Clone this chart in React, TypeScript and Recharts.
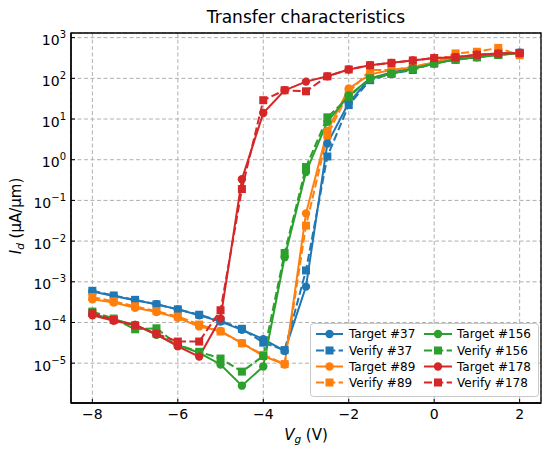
import React from "react";
import { LineChart, Line, XAxis, YAxis, CartesianGrid, Label, ReferenceArea } from "recharts";

const FONT = "DejaVu Sans, sans-serif";

// gate voltage sweep (V)
const vg = [-8, -7.5, -7, -6.5, -6, -5.5, -5, -4.5, -4, -3.5, -3, -2.5, -2, -1.5, -1, -0.5, 0, 0.5, 1, 1.5, 2];

// drain current (uA/um)
const target37 = [5.8e-4, 4.5e-4, 3.5e-4, 2.8e-4, 2.1e-4, 1.5e-4, 1.05e-4, 6.6e-5, 3.9e-5, 2.0e-5, 7.6e-4, 2.5, 25, 100, 140, 180, 240, 295, 340, 390, 425];
const verify37 = [6.0e-4, 4.6e-4, 3.6e-4, 2.8e-4, 2.1e-4, 1.55e-4, 1.1e-4, 7.0e-5, 3.2e-5, 2.1e-5, 1.9e-3, 1.2, 22, 90, 130, 160, 235, 290, 330, 380, 425];
const target89 = [3.7e-4, 3.1e-4, 2.3e-4, 1.8e-4, 1.3e-4, 8.0e-5, 6.2e-5, 3.1e-5, 1.5e-5, 9.3e-6, 0.048, 5.1, 56, 125, 160, 185, 250, 330, 360, 400, 420];
const verify89 = [4.2e-4, 3.3e-4, 2.5e-4, 1.9e-4, 1.4e-4, 8.9e-5, 6.0e-5, 3.1e-5, 1.6e-5, 9.5e-6, 0.024, 4.0, 45, 160, 160, 190, 250, 410, 450, 560, 370];
const target156 = [1.6e-4, 1.2e-4, 8.7e-5, 5.0e-5, 2.8e-5, 1.8e-5, 9.3e-6, 2.8e-6, 8.3e-6, 4.0e-3, 0.5, 8.5, 38, 98, 130, 175, 230, 290, 330, 380, 415];
const verify156 = [1.85e-4, 1.25e-4, 6.8e-5, 7.2e-5, 2.8e-5, 1.9e-5, 1.3e-5, 6.2e-6, 1.5e-5, 5.1e-3, 0.66, 11, 35, 100, 130, 170, 230, 285, 330, 375, 415];
const target178 = [1.5e-4, 1.1e-4, 8.7e-5, 5.1e-5, 2.6e-5, 1.45e-5, 1.25e-4, 0.33, 14, 51, 83, 112, 165, 210, 240, 275, 315, 330, 380, 405, 420];
const verify178 = [1.7e-4, 1.15e-4, 8.5e-5, 5.3e-5, 3.4e-5, 3.4e-5, 2.0e-4, 0.19, 29, 51, 48, 112, 165, 210, 240, 275, 315, 330, 380, 405, 420];

const xTicks = [-8, -6, -4, -2, 0, 2];
const yTicks = [1e-5, 1e-4, 1e-3, 1e-2, 1e-1, 1, 1e1, 1e2, 1e3];
const xDomain = [-8.5, 2.5];
const yDomain = [1.05e-6, 1.3e3];

const BLUE = "#1f77b4";
const ORANGE = "#ff7f0e";
const GREEN = "#2ca02c";
const RED = "#d62728";

const series = [
  { key: "t37", name: "Target #37", color: BLUE, values: target37, verify: false },
  { key: "v37", name: "Verify #37", color: BLUE, values: verify37, verify: true },
  { key: "t89", name: "Target #89", color: ORANGE, values: target89, verify: false },
  { key: "v89", name: "Verify #89", color: ORANGE, values: verify89, verify: true },
  { key: "t156", name: "Target #156", color: GREEN, values: target156, verify: false },
  { key: "v156", name: "Verify #156", color: GREEN, values: verify156, verify: true },
  { key: "t178", name: "Target #178", color: RED, values: target178, verify: false },
  { key: "v178", name: "Verify #178", color: RED, values: verify178, verify: true },
];

const data = vg.map((x, i) => {
  const row: Record<string, number> = { x };
  series.forEach((s) => {
    row[s.key] = s.values[i];
  });
  return row;
});

const DASH = "8 3.3";

function makeDot(color: string, square: boolean) {
  return (props: any) => {
    const { cx, cy, index } = props;
    if (cx == null || cy == null) return <g key={index} />;
    if (square) {
      return <rect key={index} x={cx - 4} y={cy - 4} width={8} height={8} fill={color} />;
    }
    return <circle key={index} cx={cx} cy={cy} r={4.2} fill={color} />;
  };
}

function XTick(props: any) {
  const { x, y, payload } = props;
  const v = payload.value;
  const s = v < 0 ? `\u2212${Math.abs(v)}` : `${v}`;
  return (
    <text x={x} y={y + 11} textAnchor="middle" fontSize={14} fontFamily={FONT} fill="#000">
      {s}
    </text>
  );
}

function YTick(props: any) {
  const { x, y, payload } = props;
  const e = Math.round(Math.log10(payload.value));
  const exp = e < 0 ? `\u2212${Math.abs(e)}` : `${e}`;
  return (
    <text x={x} y={y + 7.5} textAnchor="end" fontSize={14} fontFamily={FONT} fill="#000">
      <tspan>10</tspan>
      <tspan dy={-7} fontSize={10}>
        {exp}
      </tspan>
    </text>
  );
}

function Legend() {
  const rows = [
    [series[0], series[4]],
    [series[1], series[5]],
    [series[2], series[6]],
    [series[3], series[7]],
  ];
  const cols = [
    { x1: 6, x2: 33, tx: 39 },
    { x1: 114, x2: 142, tx: 147 },
  ];
  const rowY = [11, 27.5, 43.5, 59.5];
  return (
    <svg width={230} height={75} style={{ position: "absolute", left: 310, top: 323 }}>
      <rect x={0.5} y={0.5} width={228} height={73} rx={3} fill="#fff" fillOpacity={0.8} stroke="#c8c8c8" />
      {rows.map((row, r) =>
        row.map((s, c) => {
          const col = cols[c];
          const cy = rowY[r];
          const mx = (col.x1 + col.x2) / 2;
          return (
            <g key={s.key}>
              <line
                x1={col.x1}
                x2={col.x2}
                y1={cy}
                y2={cy}
                stroke={s.color}
                strokeWidth={2}
                strokeDasharray={s.verify ? DASH : undefined}
              />
              {s.verify ? (
                <rect x={mx - 4} y={cy - 4} width={8} height={8} fill={s.color} />
              ) : (
                <circle cx={mx} cy={cy} r={4.2} fill={s.color} />
              )}
              <text x={col.tx} y={cy + 4.3} fontSize={12} fontFamily={FONT} fill="#000">
                {s.name}
              </text>
            </g>
          );
        })
      )}
    </svg>
  );
}

export default function App() {
  return (
    <div style={{ position: "absolute", left: 0, top: 0, width: 550, height: 455, background: "#fff" }}>
      <LineChart width={550} height={455} data={data} margin={{ top: 33, right: 9, bottom: 0, left: 0 }}>
        <CartesianGrid stroke="#b0b0b0" strokeDasharray="4 2.5" strokeWidth={1} />
        <XAxis
          dataKey="x"
          type="number"
          domain={xDomain}
          allowDataOverflow
          ticks={xTicks}
          height={52}
          tickSize={-4}
          tickMargin={9}
          tick={<XTick />}
          axisLine={{ stroke: "#000", strokeWidth: 1.3 }}
          tickLine={{ stroke: "#000", strokeWidth: 1 }}
        >
          <Label
            content={() => (
              <text x={306} y={440} textAnchor="middle" fontSize={15} fontFamily={FONT} fill="#000">
                <tspan fontStyle="italic">V</tspan>
                <tspan fontStyle="italic" fontSize={10.5} dy={3}>
                  g
                </tspan>
                <tspan dy={-3}> (V)</tspan>
              </text>
            )}
          />
          <Label
            content={() => (
              <text x={306} y={22.5} textAnchor="middle" fontSize={17} fontFamily={FONT} fill="#000">
                Transfer characteristics
              </text>
            )}
          />
        </XAxis>
        <YAxis
          type="number"
          scale="log"
          domain={yDomain}
          allowDataOverflow
          ticks={yTicks}
          width={71}
          tickSize={-4}
          tickMargin={9}
          tick={<YTick />}
          axisLine={{ stroke: "#000", strokeWidth: 1.3 }}
          tickLine={{ stroke: "#000", strokeWidth: 1 }}
        >
          <Label
            content={() => (
              <text
                x={21}
                y={216}
                transform="rotate(-90, 21, 216)"
                textAnchor="middle"
                fontSize={15}
                fontFamily={FONT}
                fill="#000"
              >
                <tspan fontStyle="italic">I</tspan>
                <tspan fontStyle="italic" fontSize={10.5} dy={3}>
                  d
                </tspan>
                <tspan dy={-3}> (μA/μm)</tspan>
              </text>
            )}
          />
        </YAxis>
        {series.map((s) => (
          <Line
            key={s.key}
            dataKey={s.key}
            type="linear"
            stroke={s.color}
            strokeWidth={2}
            strokeDasharray={s.verify ? DASH : undefined}
            dot={makeDot(s.color, s.verify)}
            activeDot={false}
            isAnimationActive={false}
          />
        ))}
        <ReferenceArea
          x1={xDomain[0]}
          x2={xDomain[1]}
          y1={yDomain[0]}
          y2={yDomain[1]}
          fill="none"
          fillOpacity={0}
          stroke="#000"
          strokeWidth={1.3}
          ifOverflow="visible"
        />
      </LineChart>
      <Legend />
    </div>
  );
}
